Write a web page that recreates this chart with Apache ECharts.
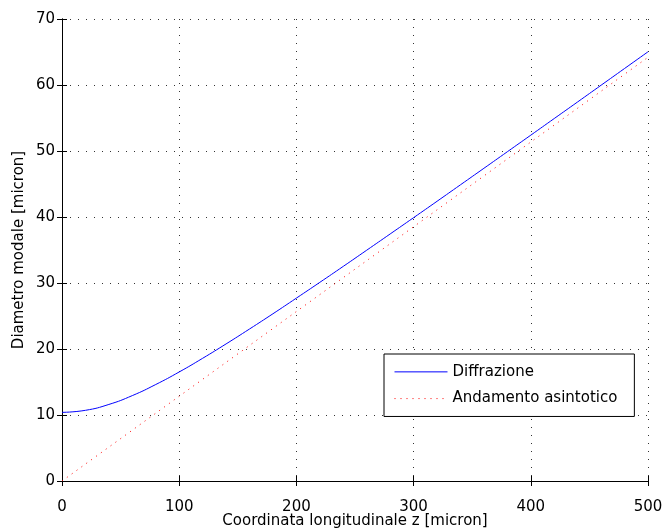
<!DOCTYPE html>
<html lang="en">
<head>
  <script src="https://cdn.jsdelivr.net/npm/echarts@6.0.0/dist/echarts.min.js"></script>
</head>
<body style="margin:0;background:#fff">
  <div id="chart" style="width:665px;height:529px;"></div>
  <script type="text/javascript">
    // z [micron] positions
    var zValues = [0, 20, 40, 60, 80, 100, 120, 140, 160, 180, 200, 220, 240, 260,
                   280, 300, 320, 340, 360, 380, 400, 420, 440, 460, 480, 500];
    // Diffrazione curve (diameter in micron)
    var diffrazione = [10.40, 10.71, 11.60, 12.94, 14.62, 16.52, 18.59, 20.77, 23.03, 25.34,
                       27.71, 30.10, 32.52, 34.97, 37.43, 39.90, 42.38, 44.88, 47.38, 49.89,
                       52.40, 54.92, 57.44, 59.97, 62.50, 65.03];
    // Andamento asintotico (straight line)
    var asintZ = [0, 100, 200, 300, 400, 500];
    var asintotico = [0, 12.84, 25.68, 38.52, 51.36, 64.2];

    var font = 'DejaVu Sans, sans-serif';

    function pairs(xs, ys) {
      var out = [];
      for (var i = 0; i < xs.length; i++) out.push([xs[i], ys[i]]);
      return out;
    }

    var chart = echarts.init(document.getElementById('chart'));

    var gridDots = { color: '#333', width: 1, type: [1, 7] };

    var option = {
      animation: false,
      textStyle: { fontFamily: font },
      grid: { left: 62, right: 17, top: 19, bottom: 48, outerBoundsMode: 'none', containLabel: false },
      legend: {
        data: ['Diffrazione', 'Andamento asintotico'],
        orient: 'vertical',
        left: 384,
        top: 354,
        backgroundColor: '#fff',
        borderColor: '#000',
        borderWidth: 1,
        borderRadius: 0,
        padding: [3, 17, 3, 10],
        itemGap: -3,
        itemWidth: 53,
        itemHeight: 14,
        itemStyle: { opacity: 0 },
        lineStyle: { width: 1 },
        textStyle: { fontSize: 15, color: '#000', fontFamily: font }
      },
      xAxis: [{
        type: 'value', min: 0, max: 500, interval: 100,
        name: 'Coordinata longitudinale z [micron]',
        nameLocation: 'middle', nameGap: 25, nameMoveOverlap: false,
        nameTextStyle: { fontSize: 15, color: '#000' },
        axisLine: { lineStyle: { color: '#000', width: 1 } },
        axisTick: { inside: true, length: 5, lineStyle: { color: '#000' } },
        axisLabel: { fontSize: 15, color: '#000', margin: 11 },
        splitLine: { show: true, lineStyle: gridDots }
      }, {
        type: 'value', min: 0, max: 500, interval: 100, position: 'top',
        axisLine: { show: true, lineStyle: { color: '#000', width: 1 } },
        axisTick: { inside: true, length: 5, lineStyle: { color: '#000' } },
        axisLabel: { show: false },
        splitLine: { show: false }
      }],
      yAxis: [{
        type: 'value', min: 0, max: 70, interval: 10,
        name: 'Diametro modale [micron]',
        nameLocation: 'middle', nameGap: 28, nameMoveOverlap: false,
        nameTextStyle: { fontSize: 15, color: '#000' },
        axisLine: { show: true, lineStyle: { color: '#000', width: 1 } },
        axisTick: { show: true, inside: true, length: 5, lineStyle: { color: '#000' } },
        axisLabel: { fontSize: 15, color: '#000', margin: 7 },
        splitLine: { show: true, lineStyle: gridDots }
      }, {
        type: 'value', min: 0, max: 70, interval: 10, position: 'right',
        axisLine: { show: true, lineStyle: { color: '#000', width: 1 } },
        axisTick: { show: true, inside: true, length: 5, lineStyle: { color: '#000' } },
        axisLabel: { show: false },
        splitLine: { show: false }
      }],
      series: [{
        name: 'Diffrazione',
        type: 'line',
        data: pairs(zValues, diffrazione),
        smooth: true,
        symbol: 'none',
        color: '#0000ff',
        lineStyle: { color: '#0000ff', width: 1 }
      }, {
        name: 'Andamento asintotico',
        type: 'line',
        data: pairs(asintZ, asintotico),
        symbol: 'none',
        color: '#ff0000',
        lineStyle: { color: '#ff0000', width: 1, type: [1, 5] }
      }]
    };

    chart.setOption(option);
  </script>
</body>
</html>
